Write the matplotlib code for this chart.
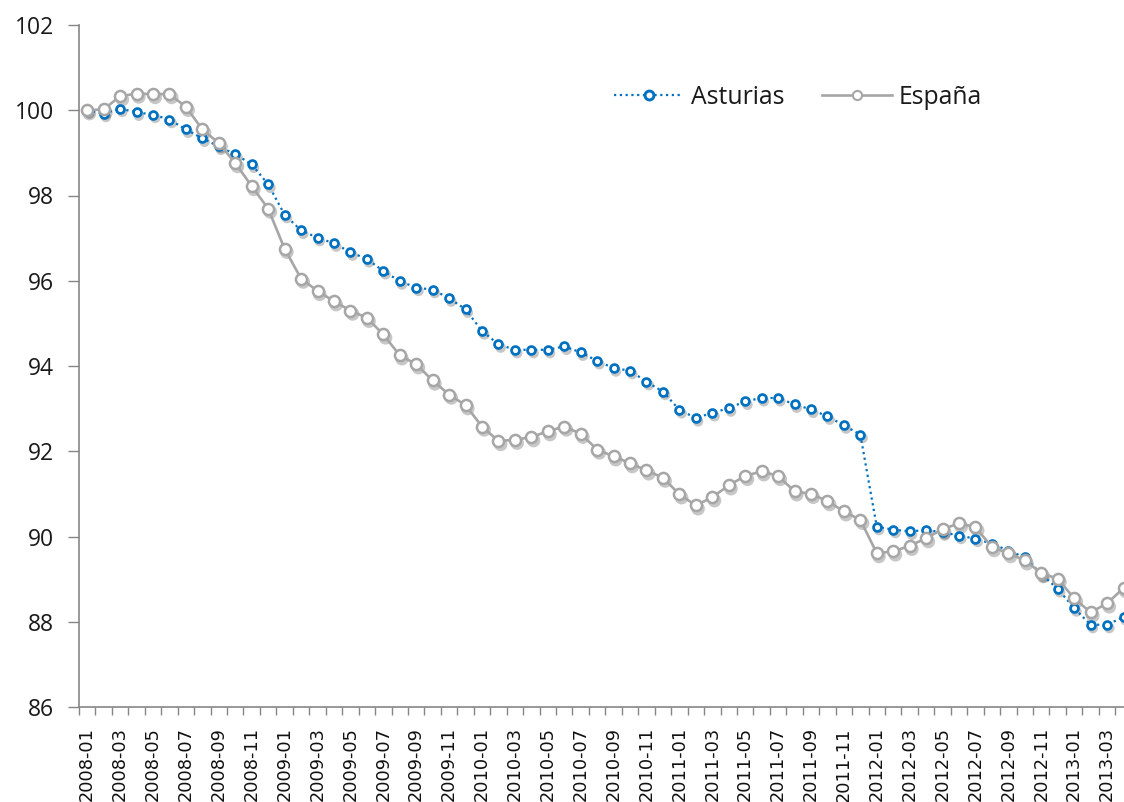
import matplotlib
matplotlib.use("Agg")
import matplotlib.pyplot as plt
import matplotlib.patheffects as pe
from matplotlib.lines import Line2D
import numpy as np

# ---- data ----
months = [f"{y}-{m:02d}" for y in range(2008, 2014) for m in range(1, 13)][:64]

asturias = [100.00, 99.92, 100.04, 99.95, 99.90, 99.78, 99.55, 99.34, 99.15, 98.97, 98.73, 98.26,
            97.55, 97.18, 97.01, 96.88, 96.67, 96.51, 96.23, 95.99, 95.84, 95.79, 95.59, 95.33,
            94.82, 94.51, 94.38, 94.38, 94.38, 94.46, 94.32, 94.12, 93.95, 93.89, 93.63, 93.40,
            92.97, 92.78, 92.90, 93.01, 93.17, 93.25, 93.25, 93.10, 92.98, 92.82, 92.61, 92.39,
            90.23, 90.16, 90.12, 90.15, 90.10, 90.02, 89.95, 89.83, 89.67, 89.51, 89.12, 88.77,
            88.32, 87.93, 87.93, 88.11]

espana = [100.00, 100.02, 100.33, 100.39, 100.38, 100.38, 100.08, 99.55, 99.23, 98.76, 98.22, 97.69,
          96.75, 96.05, 95.76, 95.52, 95.30, 95.13, 94.74, 94.25, 94.04, 93.66, 93.33, 93.08,
          92.58, 92.24, 92.27, 92.33, 92.47, 92.58, 92.41, 92.04, 91.88, 91.72, 91.55, 91.38,
          90.99, 90.73, 90.92, 91.20, 91.42, 91.53, 91.42, 91.06, 91.00, 90.83, 90.59, 90.39,
          89.61, 89.65, 89.78, 89.96, 90.17, 90.31, 90.22, 89.75, 89.61, 89.44, 89.14, 89.01,
          88.55, 88.22, 88.43, 88.79]

series_names = ["Asturias", "España"]
y_ticks = [86, 88, 90, 92, 94, 96, 98, 100, 102]

# ---- style ----
BLUE = "#0070c0"
GREY = "#a6a6a6"
AXIS = "#868686"
TXT = "#1a1a1a"

W, H = 1124, 802
fig = plt.figure(figsize=(W / 100, H / 100), dpi=100)
left_px, right_px, top_px, bot_px = 79, 1124, 25, 707
ax = fig.add_axes([left_px / W, 1 - bot_px / H, (right_px - left_px) / W, (bot_px - top_px) / H])

x = np.arange(len(months))

shadow = [pe.SimplePatchShadow(offset=(1.6, -2.4), shadow_rgbFace="black", alpha=0.22)]

# shadows
ax.plot(x, asturias, ls="none", marker="o", ms=7.6, mew=0, color="k",
        path_effects=shadow, zorder=1, clip_on=False)
ax.plot(x, espana, ls="none", marker="o", ms=9.8, mew=0, color="k",
        path_effects=shadow, zorder=1, clip_on=False)

# series
ax.plot(x, asturias, ls=(0, (1, 1.6)), lw=1.6, color=BLUE, marker="o", ms=5.7, mew=1.95,
        mec=BLUE, mfc="white", zorder=3, clip_on=False)
ax.plot(x, espana, ls="-", lw=1.9, color=GREY, marker="o", ms=8.0, mew=1.8,
        mec=GREY, mfc="white", zorder=4, clip_on=False)

ax.set_ylim(86, 102)
ax.set_xlim(-0.5, 63.03)

ax.set_yticks(y_ticks)
ax.set_yticklabels([str(v) for v in y_ticks], fontsize=16.5, color=TXT, family="Open Sans")
ax.tick_params(axis="y", direction="out", length=7.7, width=1, color=AXIS, pad=10.5)

# x: tick marks at category boundaries, labels at category centres
ax.set_xticks(np.arange(-0.5, 63.5, 1.0))
ax.set_xticklabels([])
ax.tick_params(axis="x", which="major", direction="out", length=6, width=1, color=AXIS)
lab_pos = x[::2]
ax.set_xticks(lab_pos, minor=True)
ax.set_xticklabels([months[i] for i in lab_pos], minor=True, rotation=90, fontsize=12.8,
                   color="#111111")
ax.tick_params(axis="x", which="minor", length=0, pad=14.5)

for s in ["top", "right"]:
    ax.spines[s].set_visible(False)
for s in ["left", "bottom"]:
    ax.spines[s].set_color(AXIS)
    ax.spines[s].set_linewidth(1.2)

handles = [
    Line2D([], [], ls=(0, (1, 1.6)), lw=1.6, color=BLUE, marker="o", ms=6.4, mew=2.1,
           mec=BLUE, mfc="white"),
    Line2D([], [], ls="-", lw=1.9, color=GREY, marker="o", ms=6.6, mew=1.5,
           mec=GREY, mfc="white"),
]
leg = ax.legend(handles, series_names, loc="center left", bbox_to_anchor=(614 / W, 1 - 97 / H),
                bbox_transform=fig.transFigure, ncol=2, frameon=False,
                prop={"family": "Open Sans", "size": 17.8},
                handlelength=2.8, handletextpad=0.3, columnspacing=1.55,
                borderpad=0, borderaxespad=0, numpoints=1)
for t in leg.get_texts():
    t.set_color(TXT)

fig.savefig("out.png", dpi=100)
